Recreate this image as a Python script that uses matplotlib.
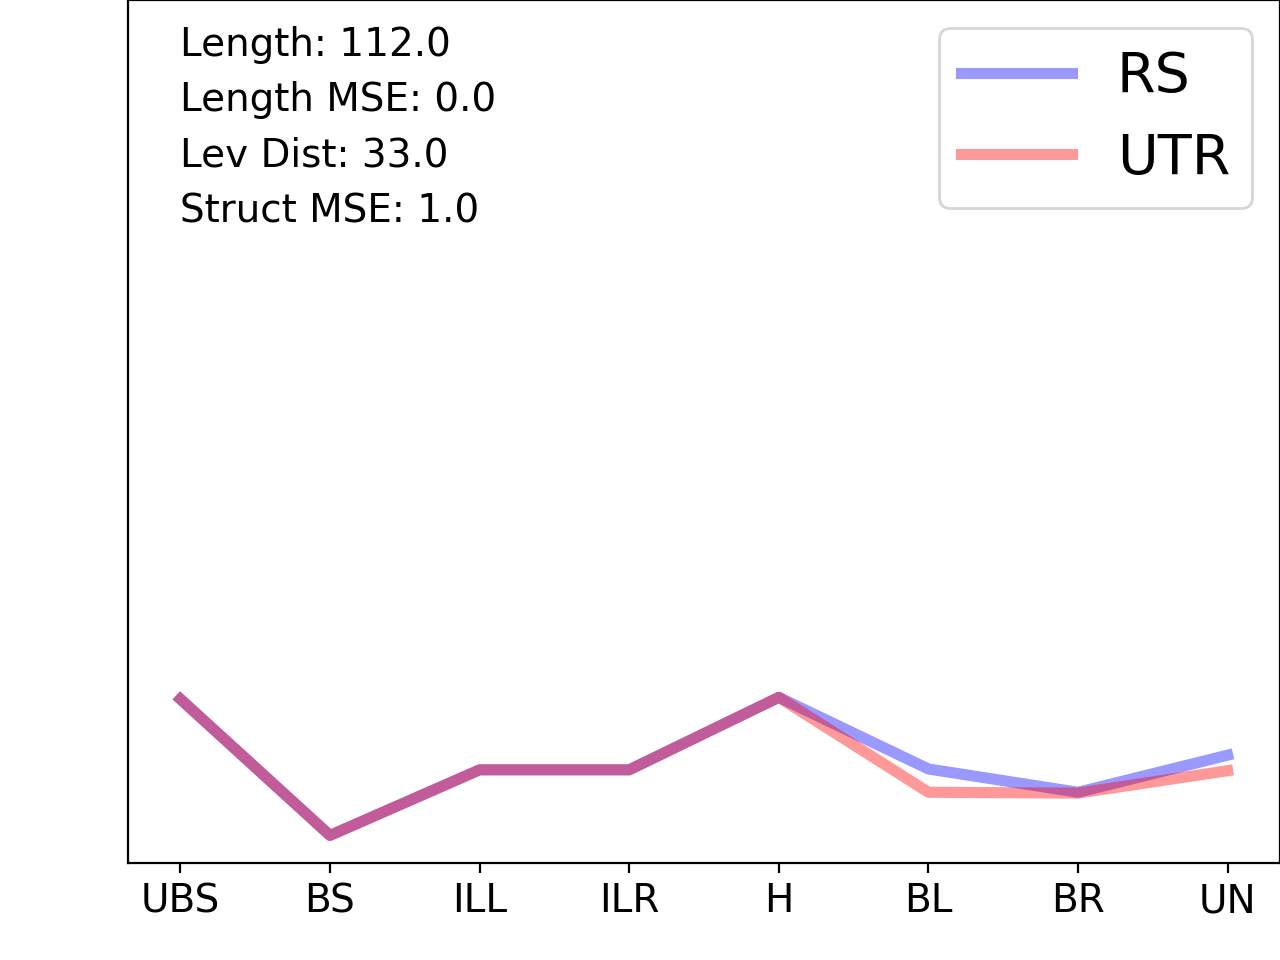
import numpy as np
import matplotlib
matplotlib.use('Agg')
import matplotlib.pyplot as plt
import matplotlib.transforms as mtransforms

labels = ['UBS', 'BS', 'ILL', 'ILR', 'H', 'BL', 'BR', 'UN']
rs = [0.190, 0.032, 0.108, 0.108, 0.192, 0.109, 0.082, 0.125]
utr = [0.190, 0.032, 0.108, 0.108, 0.192, 0.082, 0.081, 0.107]

stats = ['Length: 112.0', 'Length MSE: 0.0', 'Lev Dist: 33.0', 'Struct MSE: 1.0']

fig, ax = plt.subplots(figsize=(6.4, 4.8), dpi=200)
fig.subplots_adjust(left=0.1, right=1.0, bottom=0.101, top=1.0)

x = np.arange(len(labels))
ax.plot(x, rs, color='blue', alpha=0.4, lw=4, label='RS')
ax.plot(x, utr, color='red', alpha=0.4, lw=4, label='UTR')

ax.set_ylim(0, 1)
ax.set_yticks([])
ax.set_xticks(x)
ax.set_xticklabels(labels, fontsize=14)

trans = mtransforms.blended_transform_factory(ax.transData, ax.transAxes)
ax.text(0, 0.970, '\n'.join(stats), transform=trans, va='top', ha='left',
        fontsize=14, linespacing=1.58)

ax.legend(loc='upper right', fontsize=20)

fig.savefig('out.png', dpi=200)
